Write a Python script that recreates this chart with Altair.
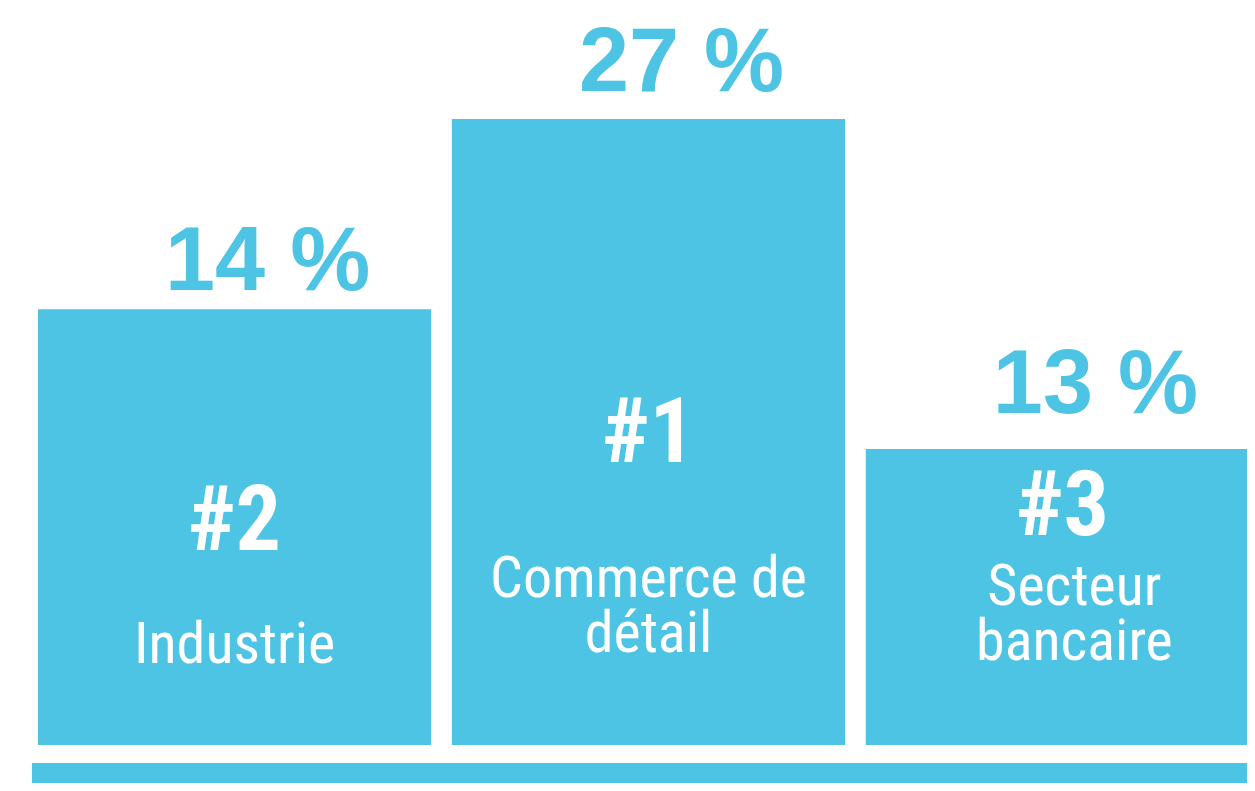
import altair as alt
import pandas as pd

# Data
categories = ["Industrie", "Commerce de\ndétail", "Secteur\nbancaire"]
ranks = ["#2", "#1", "#3"]
shares = [14, 27, 13]              # percent labels
podium_height = [69.6, 100, 47.3]  # relative podium heights (rank 1 = 100)

df = pd.DataFrame({
    "cat": categories,
    "rank": ranks,
    "share": shares,
    "h": podium_height,
})

BLUE = "#4DC4E3"
W, H = 1239, 775

x_enc = alt.X("cat:N", sort=categories, axis=None,
              scale=alt.Scale(range=[30, 1251], paddingInner=0.05, paddingOuter=0))
y_enc = alt.Y("h:Q", axis=None, scale=alt.Scale(domain=[0, 100], range=[737, 111]))

base = alt.Chart(df)

bars = base.mark_bar(color=BLUE, clip=True, cornerRadius=0).encode(x=x_enc, y=y_enc)

ground = alt.Chart(df).mark_rect(color=BLUE, clip=True).encode(
    x=alt.value(24), x2=alt.value(1400), y=alt.value(755), y2=alt.value(800)
)

# per-podium text offsets (style): pct baseline, rank baseline, label baseline, label dx
offsets = {
    categories[0]: (-19, 241, 354, 0),
    categories[1]: (-28, 343, 478, 0),
    categories[2]: (-36, 86, 156, 12),
}

layers = [bars, ground]
for cat, (dp, dr, dl, dlx) in offsets.items():
    sub = base.transform_filter(alt.datum.cat == cat)
    layers.append(
        sub.transform_calculate(lbl="datum.share + ' %'").mark_text(
            font="Liberation Sans", fontWeight="bold", fontSize=90, color=BLUE,
            align="center", baseline="alphabetic", dx=33, dy=dp
        ).encode(x=x_enc, y=y_enc, text="lbl:N")
    )
    layers.append(
        sub.mark_text(
            font="Roboto Condensed, Liberation Sans Narrow, Roboto", fontWeight="bold",
            fontSize=90, color="white", align="center", baseline="alphabetic", dy=dr
        ).encode(x=x_enc, y=y_enc, text="rank:N")
    )
    layers.append(
        sub.mark_text(
            font="Roboto Condensed, Liberation Sans Narrow, Roboto", fontSize=58,
            color="white", align="center", baseline="alphabetic", dy=dl, dx=dlx,
            lineBreak="\n", lineHeight=55
        ).encode(x=x_enc, y=y_enc, text="cat:N")
    )

chart = alt.layer(*layers).properties(
    width=W, height=H, padding=0, background="white"
).configure_view(stroke=None)

chart.save("out.html", embed_options={"renderer": "svg", "actions": False})
